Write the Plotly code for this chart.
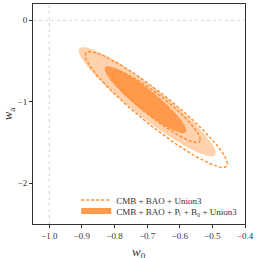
import numpy as np
import plotly.graph_objects as go

# Contour parameters (center w0, center wa, half-extent w0, half-extent wa, correlation)
filled_outer = dict(c0=-0.700, ca=-1.000, a0=0.210, aa=0.670, rho=-0.937)
filled_inner = dict(c0=-0.705, ca=-0.975, a0=0.125, aa=0.410, rho=-0.920)
dashed_outer = dict(c0=-0.672, ca=-1.095, a0=0.218, aa=0.710, rho=-0.937)
dashed_inner = dict(c0=-0.672, ca=-1.060, a0=0.135, aa=0.440, rho=-0.920)

x_ticks = [-1.0, -0.9, -0.8, -0.7, -0.6, -0.5, -0.4]
y_ticks = [0, -1, -2]
legend_names = ["CMB + BAO + Union3", "CMB + BAO + Pₗ + B₀ + Union3"]
x_title = "<i>w</i><sub>0</sub>"
y_title = "<i>w</i><sub>a</sub>"

t = np.linspace(0, 2 * np.pi, 400)


def ellipse(p):
    x = p["c0"] + p["a0"] * np.cos(t)
    y = p["ca"] + p["aa"] * (p["rho"] * np.cos(t) + np.sqrt(1 - p["rho"] ** 2) * np.sin(t))
    return x, y


fig = go.Figure()
x, y = ellipse(filled_outer)
fig.add_trace(go.Scatter(x=x, y=y, fill="toself", fillcolor="#ffd2ad", mode="none",
                         showlegend=False, hoverinfo="skip"))
x, y = ellipse(filled_inner)
fig.add_trace(go.Scatter(x=x, y=y, fill="toself", fillcolor="#ff9a4c", mode="none",
                         name=legend_names[1], legend="legend2", hoverinfo="skip"))
x, y = ellipse(dashed_outer)
fig.add_trace(go.Scatter(x=x, y=y, mode="lines", line=dict(color="#ff8a2a", width=1.4, dash="3px,2px"),
                         name=legend_names[0], legend="legend", hoverinfo="skip"))
x, y = ellipse(dashed_inner)
fig.add_trace(go.Scatter(x=x, y=y, mode="lines", line=dict(color="#ff8a2a", width=1.4, dash="3px,2px"),
                         showlegend=False, hoverinfo="skip"))

fig.add_shape(type="line", x0=-1.0, x1=-1.0, y0=0, y1=1, yref="paper",
              line=dict(color="#c8c8c8", width=0.8, dash="dot"), layer="below")
fig.add_shape(type="line", x0=0, x1=1, xref="paper", y0=0, y1=0,
              line=dict(color="#c8c8c8", width=0.8, dash="dot"), layer="below")

fig.add_annotation(text=x_title, xref="paper", yref="paper", x=0.5, y=-0.13,
                   xanchor="center", yanchor="middle", showarrow=False,
                   font=dict(size=13, color="#333333"))

font_family = "Liberation Serif"
leg_common = dict(xanchor="left", yanchor="middle", bgcolor="rgba(0,0,0,0)",
                  font=dict(size=9, color="#333333"), itemwidth=30)
fig.update_layout(
    width=258, height=258,
    margin=dict(l=33, r=13, t=4, b=34, autoexpand=False),
    paper_bgcolor="white", plot_bgcolor="white",
    font=dict(family=font_family, size=9, color="#333333"),
    showlegend=True,
    legend=dict(x=0.204, y=0.109, **leg_common),
    legend2=dict(x=0.204, y=0.059, **leg_common),
    xaxis=dict(range=[-1.05, -0.4], tickvals=x_ticks, ticktext=[f"−{abs(v):.1f}" for v in x_ticks],
               showgrid=False, zeroline=False, showline=True, linecolor="#333333", linewidth=1,
               mirror=True, ticks="outside", ticklen=3, tickcolor="#333333", automargin=False),
    yaxis=dict(range=[-2.5, 0.2], tickvals=y_ticks, ticktext=["0", "−1", "−2"],
               showgrid=False, zeroline=False, showline=True, linecolor="#333333", linewidth=1,
               mirror=True, ticks="outside", ticklen=3, tickcolor="#333333", automargin=False,
               title=dict(text=y_title, font=dict(size=13), standoff=6)),
)

fig.write_html("out.html", config={"displayModeBar": False},
               post_script="document.body.style.margin='0px';")
